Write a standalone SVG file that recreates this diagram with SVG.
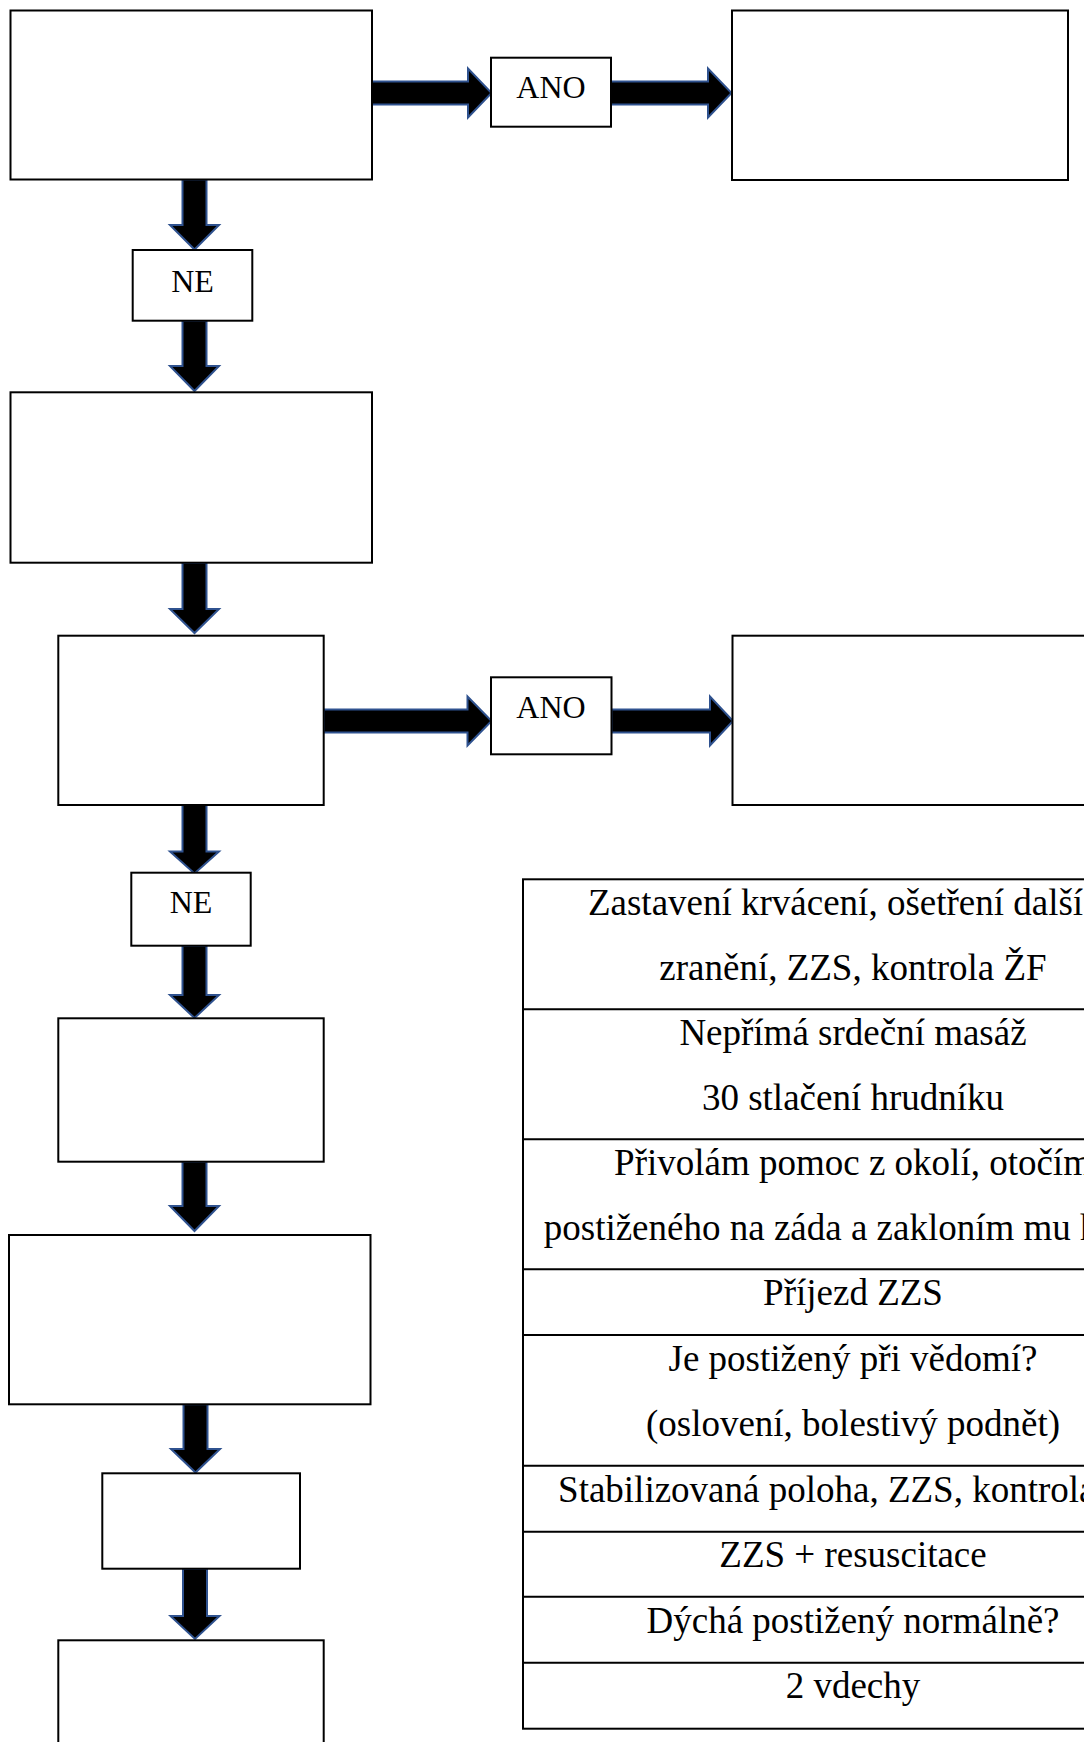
<svg xmlns="http://www.w3.org/2000/svg" width="1084" height="1742" viewBox="0 0 1084 1742">
<style>
.box{fill:#fff;stroke:#000;stroke-width:2}
.arr{fill:#000;stroke:#2F528F;stroke-width:2;stroke-linejoin:miter}
.lbl{font-family:"Liberation Serif","Times New Roman",serif;font-size:32px;fill:#000;text-anchor:middle}
.tt{font-family:"Liberation Serif","Times New Roman",serif;font-size:37px;fill:#000;text-anchor:middle}
.tl{fill:none;stroke:#000;stroke-width:2}
</style>
<rect width="1084" height="1742" fill="#fff"/>
<g id="connectors">
<path class="arr" d="M372,81.5 H468 V68.5 L491.5,93 L468,117.5 V104.5 H372 Z"/>
<path class="arr" d="M611,81.5 H708 V68.5 L731.5,93 L708,117.5 V104.5 H611 Z"/>
<path class="arr" d="M323.7,709.5 H467.5 V696.5 L491.5,721 L467.5,745.5 V732.5 H323.7 Z"/>
<path class="arr" d="M611.5,709.5 H710 V696.5 L733,721 L710,745.5 V732.5 H611.5 Z"/>
<path class="arr" d="M182.5,179.5 V225 H170 L194.5,249.5 L219,225 H206.5 V179.5 Z"/>
<path class="arr" d="M182.5,320.7 V366 H170 L194.5,391 L219,366 H206.5 V320.7 Z"/>
<path class="arr" d="M182.5,562.7 V609 H170 L194.5,633 L219,609 H206.5 V562.7 Z"/>
<path class="arr" d="M182.5,805 V851.5 H170 L194.5,873.5 L219,851.5 H206.5 V805 Z"/>
<path class="arr" d="M182.5,945.7 V995 H170 L194.5,1018 L219,995 H206.5 V945.7 Z"/>
<path class="arr" d="M182.5,1161.7 V1206 H170 L194.5,1231 L219,1206 H206.5 V1161.7 Z"/>
<path class="arr" d="M183.5,1404.3 V1449 H171 L195.5,1472.5 L220,1449 H207.5 V1404.3 Z"/>
<path class="arr" d="M183,1568.7 V1616 H170.5 L195,1639 L219.5,1616 H207 V1568.7 Z"/>
</g>
<g id="box1"><rect class="box" x="10.5" y="10.5" width="361.5" height="169"/></g>
<g id="box2"><rect class="box" x="732" y="10.5" width="336" height="169.5"/></g>
<g id="ano1"><rect class="box" x="491" y="57.7" width="120" height="69"/><text class="lbl" x="551" y="98">ANO</text></g>
<g id="ne1"><rect class="box" x="132.7" y="250" width="119.6" height="70.7"/><text class="lbl" x="192.5" y="291.5">NE</text></g>
<g id="box3"><rect class="box" x="10.5" y="392.3" width="361.5" height="170.4"/></g>
<g id="box4"><rect class="box" x="58.3" y="635.7" width="265.4" height="169.3"/></g>
<g id="ano2"><rect class="box" x="491" y="677.3" width="120.5" height="77"/><text class="lbl" x="551" y="717.5">ANO</text></g>
<g id="box5"><rect class="box" x="732.5" y="635.7" width="380" height="169.3"/></g>
<g id="ne2"><rect class="box" x="131.3" y="872.7" width="119.4" height="73"/><text class="lbl" x="191" y="913.3">NE</text></g>
<g id="box6"><rect class="box" x="58.3" y="1018.3" width="265.4" height="143.4"/></g>
<g id="box7"><rect class="box" x="9" y="1235" width="361.5" height="169.3"/></g>
<g id="box8"><rect class="box" x="102.3" y="1473.3" width="197.7" height="95.4"/></g>
<g id="box9"><rect class="box" x="58.3" y="1640.3" width="265.4" height="140"/></g>
<g id="table">
<rect class="tl" x="523" y="879.3" width="600" height="849.4"/>
<path class="tl" d="M523,1009.3 H1123 M523,1139.3 H1123 M523,1269.3 H1123 M523,1335 H1123 M523,1465.7 H1123 M523,1531.7 H1123 M523,1596.7 H1123 M523,1662.7 H1123"/>
<text class="tt" x="853" y="915">Zastavení krvácení, ošetření dalších</text>
<text class="tt" x="853" y="980">zranění, ZZS, kontrola ŽF</text>
<text class="tt" x="853" y="1045">Nepřímá srdeční masáž</text>
<text class="tt" x="853" y="1110">30 stlačení hrudníku</text>
<text class="tt" x="853" y="1175">Přivolám pomoc z okolí, otočím</text>
<text class="tt" x="853" y="1240">postiženého na záda a zakloním mu hlavu</text>
<text class="tt" x="853" y="1305">Příjezd ZZS</text>
<text class="tt" x="853" y="1371">Je postižený při vědomí?</text>
<text class="tt" x="853" y="1436">(oslovení, bolestivý podnět)</text>
<text class="tt" x="853" y="1502">Stabilizovaná poloha, ZZS, kontrola ŽF</text>
<text class="tt" x="853" y="1567">ZZS + resuscitace</text>
<text class="tt" x="853" y="1633">Dýchá postižený normálně?</text>
<text class="tt" x="853" y="1698">2 vdechy</text>
</g>
</svg>
